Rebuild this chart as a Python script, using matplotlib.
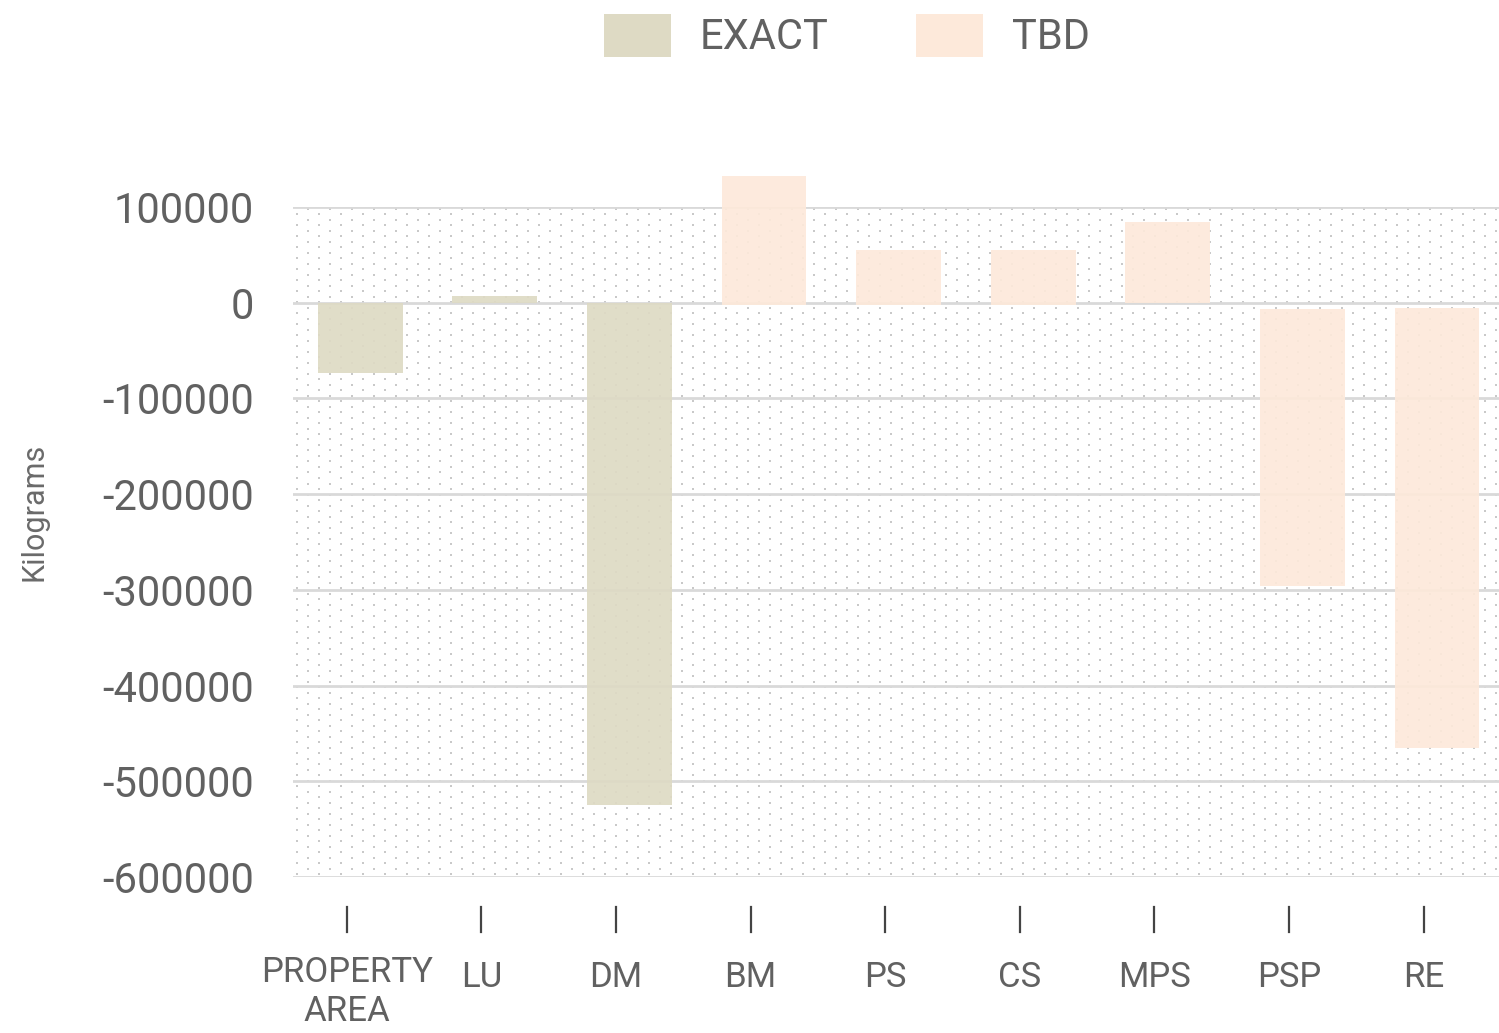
import numpy as np
import matplotlib
matplotlib.use("Agg")
import matplotlib.pyplot as plt
from matplotlib.patches import Patch
from matplotlib.transforms import blended_transform_factory

plt.rcParams['font.family'] = ['Roboto', 'DejaVu Sans']

# data
categories = ['PROPERTY\nAREA', 'LU', 'DM', 'BM', 'PS', 'CS', 'MPS', 'PSP', 'RE']
kind = ['EXACT', 'EXACT', 'EXACT', 'TBD', 'TBD', 'TBD', 'TBD', 'TBD', 'TBD']
bar_start = [0, 0, 0, -2000, -2000, -2000, 0, -7000, -6000]
bar_end = [-73000, 7000, -525000, 132000, 55000, 55000, 84000, -296000, -465000]
y_ticks = [100000, 0, -100000, -200000, -300000, -400000, -500000, -600000]

colors = {'EXACT': '#dedac4', 'TBD': '#fde9da'}
text_col = '#616161'

fig = plt.figure(figsize=(14.99, 10.33), dpi=100)
ax = fig.add_axes([293 / 1499, 1 - 877 / 1033, 1 - 293 / 1499, 670 / 1033])

# dotted background: columns 11px apart, alternate columns shifted half a step
W, H = 1206, 670
cols = np.arange(0, W, 11) + 4
rows = np.arange(0, H, 11) + 3
px, py = [], []
for k, c in enumerate(cols):
    shift = 5.5 if k % 2 else 0
    for r in rows:
        if r + shift < H:
            px.append(c / W)
            py.append((r + shift) / H)
ax.scatter(px, py, s=4.5, marker='s', color='#c9c9c9',
           linewidths=0, transform=ax.transAxes, zorder=0)

x = np.arange(len(categories))
for i in range(len(categories)):
    ax.bar(x[i], bar_end[i] - bar_start[i], bottom=bar_start[i], width=0.63,
           color=colors[kind[i]], alpha=0.92, zorder=2, clip_on=False)

ax.set_xlim(-0.5, 8.46)
ax.set_ylim(-600000, 100000)
ax.set_yticks(y_ticks)
ax.set_yticklabels([str(v) for v in y_ticks])
ax.tick_params(axis='y', length=0, pad=28, labelsize=30, labelcolor=text_col)
ax.grid(axis='y', color='#d9d9d9', linewidth=2.0, zorder=1)
ax.set_axisbelow(True)
ax.set_xticks([])
for s in ax.spines.values():
    s.set_visible(False)

ax.set_ylabel('Kilograms', fontsize=22, color='#6a6a6a')
ax.yaxis.set_label_coords(-0.203, 0.545)

# ticks and category labels below the axis
tick_x = x - 0.1
trans = blended_transform_factory(ax.transData, ax.transAxes)
for i, lab in enumerate(categories):
    ax.plot([tick_x[i], tick_x[i]], [-0.045, -0.082], color='#444444', lw=1.6,
            transform=trans, clip_on=False)
    yc = -0.172 if '\n' in lab else -0.150
    ax.text(tick_x[i], yc, lab, transform=trans, ha='center', va='center',
            fontsize=25, color=text_col, linespacing=1.25)

handles = [Patch(facecolor=colors['EXACT'], edgecolor='none', label='EXACT'),
           Patch(facecolor=colors['TBD'], edgecolor='none', label='TBD')]
fig.legend(handles=handles, loc='center', bbox_to_anchor=(0.565, 0.965), ncol=2,
           frameon=False, fontsize=30, handlelength=1.6, handleheight=1.2,
           handletextpad=0.7, columnspacing=2.1, labelcolor=text_col)

fig.savefig('out.png', dpi=100)
